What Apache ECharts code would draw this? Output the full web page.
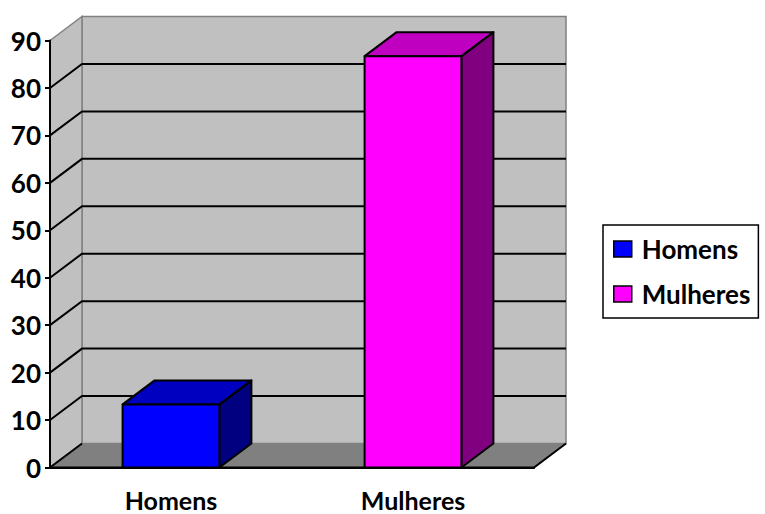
<!DOCTYPE html>
<html>
<head>
<meta charset="utf-8">
<script src="https://cdn.jsdelivr.net/npm/echarts@6/dist/echarts.min.js"></script>
<style>
  html, body { margin: 0; padding: 0; background: #ffffff; }
  #chart { width: 765px; height: 514px; }
</style>
</head>
<body>
<div id="chart"></div>
<script>
// ─── 데이터 ───
const categories = ['Homens', 'Mulheres'];
const values = [13.3, 86.7];
const yTicks = [0, 10, 20, 30, 40, 50, 60, 70, 80, 90];

// ─── 스타일 ───
const FONT = "Lato, 'Open Sans', sans-serif";
const FRONT = ['#0000ff', '#ff00ff'];
const TOP = ['#0000c0', '#c000c0'];
const SIDE = ['#000080', '#800080'];
const WALL = '#c0c0c0';
const FLOOR = '#808080';
const DX = 32, DY = -24; // 3D 깊이 오프셋(px)

// 벽/바닥/격자선
function renderWalls(params, api) {
  const band = api.size([1, 0])[0];
  const xl = api.coord([0, 0])[0] - band / 2;
  const xr = api.coord([categories.length - 1, 0])[0] + band / 2;
  const y0 = api.coord([0, yTicks[0]])[1];
  const yTop = api.coord([0, yTicks[yTicks.length - 1]])[1];
  const children = [
    // 뒷벽
    { type: 'rect', shape: { x: xl + DX, y: yTop + DY, width: xr - xl, height: y0 - yTop },
      style: { fill: WALL, stroke: '#808080', lineWidth: 1.5 } },
    // 왼쪽 벽
    { type: 'polygon', shape: { points: [[xl, y0], [xl + DX, y0 + DY], [xl + DX, yTop + DY], [xl, yTop]] },
      style: { fill: WALL, stroke: '#808080', lineWidth: 1.5 } },
    // 바닥
    { type: 'polygon', shape: { points: [[xl, y0], [xr, y0], [xr + DX, y0 + DY], [xl + DX, y0 + DY]] },
      style: { fill: FLOOR, stroke: null } },
    { type: 'polyline', shape: { points: [[xl, y0], [xr, y0], [xr + DX, y0 + DY]] },
      style: { fill: null, stroke: '#000', lineWidth: 2 } },
  ];
  yTicks.forEach((t, i) => {
    const y = api.coord([0, t])[1];
    if (i === yTicks.length - 1) return;
    children.push({ type: 'polyline',
      shape: { points: i === 0 ? [[xl, y], [xl + DX, y + DY]] : [[xl, y], [xl + DX, y + DY], [xr + DX, y + DY]] },
      style: { fill: null, stroke: '#000', lineWidth: 2 } });
  });
  return { type: 'group', children };
}

// 3D 막대
function renderBar(params, api) {
  const ci = api.value(0);
  const band = api.size([1, 0])[0];
  const w = band * 0.4;
  const cx = api.coord([ci, 0])[0];
  const yb = api.coord([ci, 0])[1];
  const yt = api.coord([ci, api.value(1)])[1];
  const x0 = cx - w / 2, x1 = cx + w / 2;
  const s = { stroke: '#000', lineWidth: 2, lineJoin: 'round' };
  const k = params.seriesIndex - 1;
  return {
    type: 'group',
    children: [
      { type: 'polygon', shape: { points: [[x1, yb], [x1, yt], [x1 + DX, yt + DY], [x1 + DX, yb + DY]] },
        style: Object.assign({ fill: SIDE[k] }, s) },
      { type: 'polygon', shape: { points: [[x0, yt], [x1, yt], [x1 + DX, yt + DY], [x0 + DX, yt + DY]] },
        style: Object.assign({ fill: TOP[k] }, s) },
      { type: 'rect', shape: { x: x0, y: yt, width: w, height: yb - yt },
        style: Object.assign({ fill: FRONT[k] }, s) },
    ],
  };
}

const chart = echarts.init(document.getElementById('chart'), null, { renderer: 'svg' });

chart.setOption({
  animation: false,
  backgroundColor: '#ffffff',
  textStyle: { fontFamily: FONT },
  grid: { left: 50, right: 231, top: 40.5, bottom: 46.5 },
  legend: {
    data: categories,
    orient: 'vertical',
    left: 603,
    top: 225,
    padding: [11, 8, 11, 10],
    itemGap: 19,
    itemWidth: 18,
    itemHeight: 16,
    icon: 'rect',
    borderColor: '#000',
    borderWidth: 1.5,
    itemStyle: { borderColor: '#000', borderWidth: 1.5 },
    textStyle: { fontFamily: FONT, fontSize: 26, fontWeight: 'bold', color: '#000', padding: [0, 0, 0, 5] },
  },
  xAxis: {
    type: 'category',
    data: categories,
    z: 10,
    axisLine: { lineStyle: { color: '#000', width: 2 } },
    axisTick: { length: 7, lineStyle: { color: '#000', width: 2 } },
    axisLabel: { fontFamily: FONT, fontSize: 25, fontWeight: 'bold', color: '#000', margin: 20 },
  },
  yAxis: {
    type: 'value',
    min: 0,
    max: 90,
    interval: 10,
    z: 10,
    axisLine: { show: true, lineStyle: { color: '#000', width: 2 } },
    axisTick: { show: true, length: 5, lineStyle: { color: '#000', width: 2 } },
    axisLabel: { fontFamily: FONT, fontSize: 26, fontWeight: 'bold', color: '#000', margin: 9 },
    splitLine: { show: false },
  },
  series: [
    { type: 'custom', name: '_walls', silent: true, z: 1, renderItem: renderWalls, data: [[0, 0]] },
    { type: 'custom', name: categories[0], z: 3, itemStyle: { color: FRONT[0] },
      renderItem: renderBar, encode: { x: 0, y: 1 }, data: [[0, values[0]]] },
    { type: 'custom', name: categories[1], z: 3, itemStyle: { color: FRONT[1] },
      renderItem: renderBar, encode: { x: 0, y: 1 }, data: [[1, values[1]]] },
  ],
});
</script>
</body>
</html>
